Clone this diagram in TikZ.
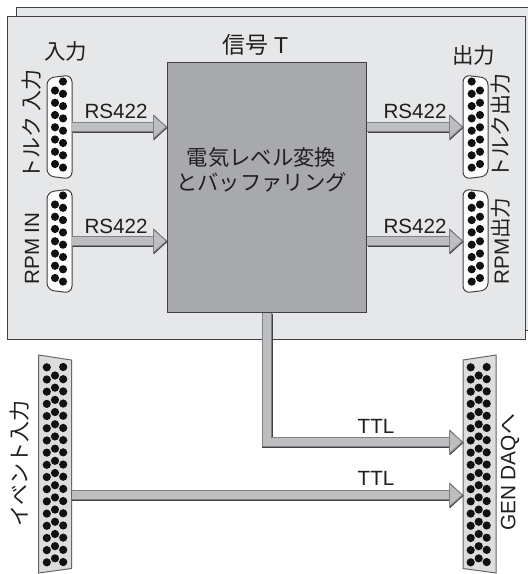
\documentclass[tikz,border=0pt]{standalone}
\usepackage{fontspec}
\setmainfont{Liberation Sans}
\newfontfamily\jp{Noto Sans CJK JP}
\usetikzlibrary{arrows.meta,calc}
\definecolor{panel}{HTML}{E6E7E8}
\definecolor{boxgray}{HTML}{A7A9AC}
\definecolor{ink}{HTML}{414042}
\definecolor{barfill}{HTML}{BCBEC0}
\definecolor{barline}{HTML}{808285}
\definecolor{bigfill}{HTML}{DCDDDE}
\definecolor{pin}{HTML}{111111}
\tikzset{
  x=1pt,y=-1pt,
  panelbox/.style={draw=ink,fill=panel,line width=1pt},
  mainbox/.style={draw=ink,fill=boxgray,line width=1.1pt,minimum width=199pt,minimum height=250pt,inner sep=0pt},
  shell/.style={draw=ink,fill=white,line width=1pt,rounded corners=7pt},
  bigshell/.style={draw=ink!80,fill=bigfill,line width=1pt},
  pindot/.style={fill=pin,draw=none},
  fat/.style={line width=0.9pt,draw=barline,double=barfill,double distance=8.6pt,
    preaction={draw=ink,line width=10.4pt,double=none,transform canvas={shift={(0.6pt,-0.6pt)}},-{Triangle[length=14pt,width=25.5pt,fill=ink,color=ink,line width=0.5pt]}},
    -{Triangle[length=14pt,width=25pt,fill=barfill,color=barline,line width=0.9pt]}},
  sigtext/.style={font=\fontsize{20.6}{22}\selectfont,text=black!88,inner sep=0pt},
  jptext/.style={font=\jp\fontsize{21.5}{24}\selectfont,text=black!88,inner sep=0pt},
  jpside/.style={font=\jp\fontsize{21}{22}\selectfont,text=black!88,inner sep=0pt,rotate=90},
}
\newcommand{\smallconn}[3]{%
  \node[minimum width=25pt,minimum height=104pt,inner sep=0pt,outer sep=0pt,anchor=north west] (#1) at (#2,#3) {};
}
\begin{document}
\begin{tikzpicture}
\useasboundingbox (0,0) rectangle (528,574);
\fill[white] (0,0) rectangle (528,574);
% panels
\draw[panelbox] (16,7.5) rectangle (535,330);
\draw[panelbox] (7.5,16.5) rectangle (525,339);
\node[mainbox,anchor=north west] (box) at (167,62) {};
\node[font=\jp\fontsize{21.3}{24.5}\selectfont,text=black!88,align=center,inner sep=0pt] (boxtext) at (261.5,170) {電気レベル変換\\とバッファリング};
% small connectors
\smallconn{tin}{47}{75}
\smallconn{rin}{47}{189}
\smallconn{tout}{463}{75}
\smallconn{rout}{463}{189}
\foreach \n in {tin,rin}{
  \draw[shell] (\n.west) -- ($(\n.north west)+(0,3)$) -- (\n.north east) -- (\n.south east) -- ($(\n.south west)+(0,-3)$) -- cycle;
  \foreach \i in {0,...,7} \fill[pindot] ($(\n.north west)+(16,6.5+12.3*\i)$) circle (4.1);
  \foreach \i in {0,...,6} \fill[pindot] ($(\n.north west)+(8,15.5+12.25*\i)$) circle (4.1);
}
\foreach \n in {tout,rout}{
  \draw[shell] (\n.west) -- (\n.north west) -- ($(\n.north east)+(0,3)$) -- ($(\n.south east)+(0,-3)$) -- (\n.south west) -- cycle;
  \foreach \i in {0,...,7} \fill[pindot] ($(\n.north west)+(8.7,6.5+12.3*\i)$) circle (4.1);
  \foreach \i in {0,...,6} \fill[pindot] ($(\n.north west)+(17,15.5+12.25*\i)$) circle (4.1);
}
% big connectors
\node[minimum width=33pt,minimum height=218pt,inner sep=0pt,outer sep=0pt,anchor=north west] (ev) at (38.5,355) {};
\node[minimum width=33pt,minimum height=218pt,inner sep=0pt,outer sep=0pt,anchor=north west] (gen) at (463,355) {};
\draw[bigshell] (ev.north west) -- ($(ev.north east)+(0,5)$) -- ($(ev.south east)+(0,-4.5)$) -- (ev.south west) -- cycle;
\draw[bigshell] ($(gen.north west)+(0,5)$) -- (gen.north east) -- (gen.south east) -- ($(gen.south west)+(0,-4.5)$) -- cycle;
\foreach \n/\a/\b/\c in {ev/8.3/16.5/24.7,gen/7.7/15.7/23.7}{
  \foreach \i in {0,...,16}{
    \fill[pindot] ($(\n.north west)+(\a,12.3+12.19*\i)$) circle (4.1);
    \fill[pindot] ($(\n.north west)+(\c,12+12.19*\i)$) circle (4.1);
  }
  \foreach \i in {0,...,15} \fill[pindot] ($(\n.north west)+(\b,20.5+12.19*\i)$) circle (4.1);
}
% connectors
\draw[fat] (tin.east) -- (tin.east -| box.west);
\draw[fat] (rin.east) -- (rin.east -| box.west);
\draw[fat] (box.east |- tout.west) -- (tout.west);
\draw[fat] (box.east |- rout.west) -- (rout.west);
\coordinate (evout) at ($(ev.north east)+(0,140)$);
\coordinate (bend) at (box.south |- 0,442);
\coordinate (genttl) at (gen.west |- 0,442);
\draw[fat,line join=miter] (box.south) -- (bend) -- (genttl);
\draw[fat] (evout) -- (evout -| gen.west);
% labels
\node[sigtext] (l1) at (116,111) {RS422};
\node[sigtext] (l2) at (116,226) {RS422};
\node[sigtext] (l3) at (415,111) {RS422};
\node[sigtext] (l4) at (415,226) {RS422};
\node[sigtext] (l5) at (376,426) {TTL};
\node[sigtext] (l6) at (376,478) {TTL};
\node[jptext] (t1) at (65.5,51) {入力};
\node[jptext] (t2) at (473.5,55) {出力};
\node[font=\jp\fontsize{23}{24}\selectfont,text=black!88,inner sep=0pt] (t3) at (255.5,45) {信号 {\rmfamily T}};
\node[jpside] (s1) at (31.5,124.5) {トルク 入力};
\node[sigtext,rotate=90] (s2) at (32,248.5) {RPM IN};
\node[jpside] (s3) at (501,126) {トルク出力};
\node[font=\fontsize{20.6}{22}\selectfont,inner sep=0pt,rotate=90,text=black!88] (s4) at (501,241) {RPM{\jp 出力}};
\node[jpside] (s5) at (20,463.5) {イベント入力};
\node[font=\fontsize{20.8}{22}\selectfont,inner sep=0pt,rotate=90,text=black!88] (s6) at (510,472.5) {GEN DAQ{\jp へ}};
\end{tikzpicture}
\end{document}
